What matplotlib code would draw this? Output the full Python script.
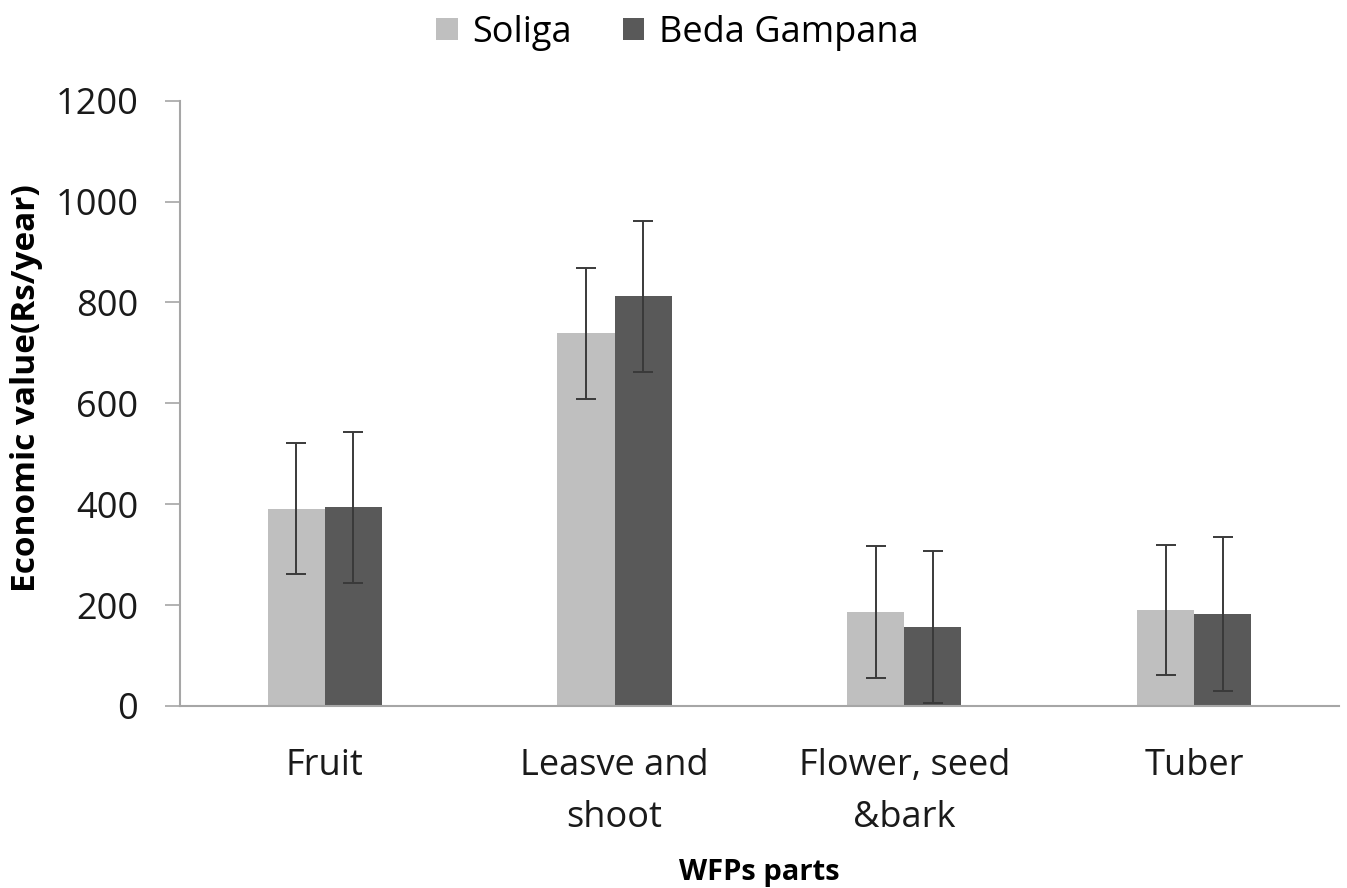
import matplotlib
matplotlib.use("Agg")
import matplotlib.pyplot as plt
import numpy as np

categories = ["Fruit", "Leasve and\nshoot", "Flower, seed\n&bark", "Tuber"]
series_names = ["Soliga", "Beda Gampana"]
soliga = [391, 739, 187, 191]
soliga_err = [130, 130, 131, 129]
beda = [394, 812, 157, 182]
beda_err = [150, 150, 151, 153]
yticks = [0, 200, 400, 600, 800, 1000, 1200]

plt.rcParams['font.family'] = ['Open Sans', 'DejaVu Sans']

fig = plt.figure(figsize=(13.47, 8.88), dpi=100)
ax = fig.add_axes([0.1336, 0.205, 0.8604, 0.6816])

x = np.arange(len(categories))
w = 0.197
ax.bar(x - w/2, soliga, w, color="#bfbfbf", label=series_names[0])
ax.bar(x + w/2, beda, w, color="#595959", label=series_names[1])
ekw = dict(fmt="none", ecolor="#3a3a3a", elinewidth=1.4, capsize=7, capthick=1.4)
ax.errorbar(x - w/2, soliga, yerr=soliga_err, **ekw)
ax.errorbar(x + w/2, beda, yerr=beda_err, **ekw)

ax.set_xlim(-0.5, 3.5)
ax.set_ylim(0, 1200)
ax.set_yticks(yticks)
ax.set_yticklabels([str(t) for t in yticks], fontsize=26, color="#1a1a1a")
ax.set_xticks(x)
ax.set_xticklabels(categories, fontsize=26, color="#1a1a1a", linespacing=1.6)
ax.tick_params(axis="x", length=0, pad=30)
ax.tick_params(axis="y", length=11, width=1.2, color="#a6a6a6", pad=19)

for s in ["top", "right"]:
    ax.spines[s].set_visible(False)
for s in ["left", "bottom"]:
    ax.spines[s].set_color("#a6a6a6")
    ax.spines[s].set_linewidth(1.5)

ax.set_ylabel("Economic value(Rs/year)", fontsize=24, fontweight="bold")
ax.yaxis.set_label_coords(-0.118, 0.525)
ax.set_xlabel("WFPs parts", fontsize=21, fontweight="bold", labelpad=16)

leg = fig.legend(loc="upper center", bbox_to_anchor=(0.503, 1.02), ncol=2, frameon=False,
                 fontsize=26, handlelength=0.6, handleheight=0.6, handletextpad=0.4,
                 columnspacing=1.4)

fig.savefig("out.png", dpi=100, facecolor="white")
